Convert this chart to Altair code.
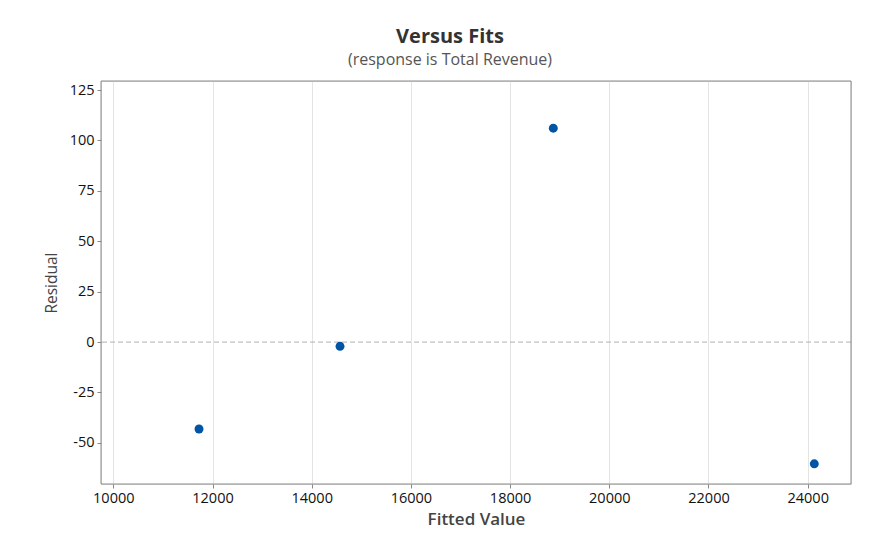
import altair as alt
import pandas as pd

# Data
fitted = [11728, 14571, 18871, 24133]
residual = [-43.1, -2.1, 106.1, -60.4]
x_ticks = [10000, 12000, 14000, 16000, 18000, 20000, 22000, 24000]
y_ticks = [-50, -25, 0, 25, 50, 75, 100, 125]
x_domain = [9752, 24873]
y_domain = [-70.4, 129.5]

df = pd.DataFrame({"Fitted Value": fitted, "Residual": residual})
one = pd.DataFrame({"k": [0]})

FONT = "Open Sans"

points = alt.Chart(df).mark_circle(size=80, opacity=1, color="#0054a6").encode(
    x=alt.X("Fitted Value:Q",
            scale=alt.Scale(domain=x_domain, nice=False, zero=False),
            axis=alt.Axis(values=x_ticks, title="Fitted Value", format="d",
                          labelFontSize=14.5, labelColor="#111", labelFont=FONT,
                          labelFontWeight=500,
                          titleFontSize=17, titleFont=FONT, titleColor="#444",
                          titleFontWeight=600, titlePadding=7,
                          tickColor="#888", tickSize=4, domain=False,
                          gridColor="#e4e4e4", labelPadding=3)),
    y=alt.Y("Residual:Q",
            scale=alt.Scale(domain=y_domain, nice=False, zero=False),
            axis=alt.Axis(values=y_ticks, title="Residual",
                          labelExpr="datum.value < 0 ? '-' + abs(datum.value) : '' + datum.value",
                          labelFontSize=14.5, labelColor="#111", labelFont=FONT,
                          labelFontWeight=500,
                          titleFontSize=15.5, titleFont=FONT, titleColor="#444",
                          titleFontWeight=500, titlePadding=10,
                          tickColor="#888", tickSize=4, domain=False,
                          gridColor="#ececec", labelPadding=3)),
)

zero = alt.Chart(one).mark_rule(color="#b0b0b0", strokeDash=[5, 3], strokeWidth=1).encode(
    y=alt.datum(0)
)

frame = alt.Chart(one).mark_rect(fillOpacity=0, stroke="#8a8a8a", strokeWidth=1).encode(
    x=alt.value(0), x2=alt.value(750), y=alt.value(0), y2=alt.value(403)
)

chart = alt.layer(zero, frame, points).properties(
    width=750,
    height=403,
    autosize=alt.AutoSizeParams(type="none"),
    padding={"left": 93, "top": 73, "right": 21, "bottom": 54},
    title=alt.TitleParams(
        text="Versus Fits",
        subtitle="(response is Total Revenue)",
        anchor="middle",
        frame="group",
        dx=-26,
        offset=13,
        font=FONT,
        fontSize=20,
        fontWeight="bold",
        color="#333",
        subtitleFont=FONT,
        subtitleFontSize=16,
        subtitleColor="#555",
        subtitlePadding=5,
    ),
).configure_view(
    stroke="#8a8a8a", strokeWidth=1
).configure(background="white")

chart.save("out.html", embed_options={"renderer": "svg", "actions": False})
